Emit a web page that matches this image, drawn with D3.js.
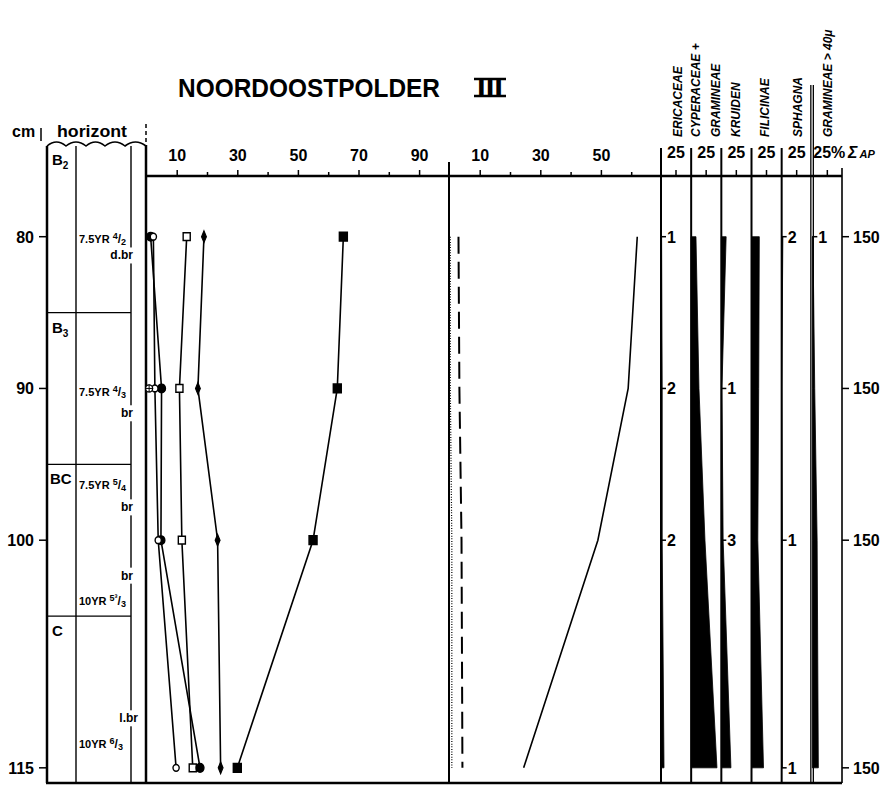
<!DOCTYPE html>
<html><head><meta charset="utf-8">
<script src="https://cdn.jsdelivr.net/npm/d3@7"></script>
<style>body{margin:0;background:#fff} svg{display:block}</style>
</head><body><svg id="c" width="896" height="785"></svg>
<script>
// ---------------- DATA ----------------
const depths = [80, 90, 100, 115];
const filledSquare  = [65, 63, 55, 30];
const filledDiamond = [19, 17, 23.5, 24.5];
const openSquare    = [13.3, 10.9, 11.7, 15.3];
const filledCircle  = [1.4, 5, 4.8, 17.7];
const openCircle    = [2.3, 2.8, 3.9, 9.8];
const crossedCircle = [null, 0.9, null, null];
const apSolid  = [62, 59, 49, 24.5];
const apDashed = [3, 3.3, 4, 4.3];
const apDotted = [0.3, 0.3, 0.8, 0.8];
const ericaceae = [1, 2, 2, 5];
const cyperGram = [8, 13, 23, 43];
const kruiden   = [8, 1, 3, 16];
const filicinae = [13, 12, 10.5, 20];
const sphagna   = [2, 0, 1, 1];
const gramLarge = [1, 4, 8, 10];
const sumAP = [150, 150, 150, 150];
const columnNames = [["ERICACEAE"], ["CYPERACEAE +", "GRAMINEAE"], ["KRUIDEN"], ["FILICINAE"], ["SPHAGNA"], ["GRAMINEAE > 40\u03bc"]];
const columnTickLabels = ["25", "25", "25", "25", "25", "25%"];
const mainTicks = [10, 20, 30, 40, 50, 60, 70, 80, 90];
const mainTickLabels = [10, 30, 50, 70, 90];
const secondTicks = [10, 20, 30, 40, 50, 60];
const secondTickLabels = [10, 30, 50];
const horizonNames = ["B", "B", "BC", "C"];
const horizonSubs = ["2", "3", "", ""];
const horizonTops = [76, 85, 95, 105];
const colourHue = ["7.5YR", "7.5YR", "7.5YR", "10YR", "10YR"];
const colourNum = ["4", "4", "5", "5\u00b3", "6"];
const colourDen = ["2", "3", "4", "3", "3"];
const colourDepth = [80.4, 90.5, 96.6, 104.3, 113.7];
const colourNames = ["d.br", "br", "br", "br", "l.br"];
const colourNameDepth = [81.5, 91.9, 98.1, 102.6, 112];
const title = "NOORDOOSTPOLDER";
const titleNumber = "III";

// ---------------- SETUP ----------------
const svg = d3.select("#c");
svg.append("rect").attr("width", 896).attr("height", 785).attr("fill", "#fff");
const F = "'Liberation Sans', Arial, sans-serif";
const FN = "'Liberation Sans Narrow', 'Liberation Sans', Arial, sans-serif";
const INK = "#000";

const y = d3.scaleLinear().domain([76, 116]).range([176, 783]);
const xMain = d3.scaleLinear().domain([0, 100]).range([146.4, 449.4]);
const xSecond = d3.scaleLinear().domain([0, 70]).range([449.4, 661.5]);
const colLeft = d3.scaleLinear().domain([0, 6]).range([661, 842]);
const pct = d3.scaleLinear().domain([0, 50]).range([0, 30]);
const AXIS_Y = 176, BOTTOM = 783;

// ---------------- TITLE ----------------
svg.append("text").attr("x", 178).attr("y", 97).attr("font-family", F).attr("font-weight", "bold")
  .attr("font-size", 26).attr("textLength", 262).attr("lengthAdjust", "spacingAndGlyphs").text(title);
svg.append("text").attr("x", 477).attr("y", 96).attr("font-family", F).attr("font-weight", "bold")
  .attr("font-size", 24).attr("textLength", 26).attr("lengthAdjust", "spacingAndGlyphs").text(titleNumber);
[79, 96].forEach(yy => svg.append("line").attr("x1", 474).attr("x2", 506).attr("y1", yy).attr("y2", yy)
  .attr("stroke", INK).attr("stroke-width", 2.5));

// ---------------- HORIZON COLUMN ----------------
const hg = svg.append("g");
hg.append("text").attr("x", 12).attr("y", 137).attr("font-family", F).attr("font-weight", "bold").attr("font-size", 16).text("cm");
hg.append("text").attr("x", 57).attr("y", 137).attr("font-family", F).attr("font-weight", "bold").attr("font-size", 17)
  .attr("textLength", 70).attr("lengthAdjust", "spacingAndGlyphs").text("horizont");
hg.append("line").attr("x1", 41).attr("x2", 41).attr("y1", 128).attr("y2", 141).attr("stroke", INK).attr("stroke-width", 1.5);
hg.append("line").attr("x1", 146).attr("x2", 146).attr("y1", 124).attr("y2", 145).attr("stroke", INK).attr("stroke-width", 1.5).attr("stroke-dasharray", "4,3");
const wp = d3.path();
const cusps = [47, 66, 86, 105, 125, 146];
wp.moveTo(cusps[0], 146);
for (let i = 1; i < cusps.length; i++) {
  const m = (cusps[i - 1] + cusps[i]) / 2;
  wp.quadraticCurveTo(m, 138, cusps[i], 146);
}
hg.append("path").attr("d", wp.toString()).attr("fill", "none").attr("stroke", INK).attr("stroke-width", 1.6);
hg.append("line").attr("x1", 47).attr("x2", 47).attr("y1", 146).attr("y2", BOTTOM).attr("stroke", INK).attr("stroke-width", 2.5);
hg.append("line").attr("x1", 76).attr("x2", 76).attr("y1", 146).attr("y2", BOTTOM).attr("stroke", INK).attr("stroke-width", 1.4);
hg.append("line").attr("x1", 131).attr("x2", 131).attr("y1", 146).attr("y2", BOTTOM).attr("stroke", INK).attr("stroke-width", 1.4);
hg.append("line").attr("x1", 146).attr("x2", 146).attr("y1", 145).attr("y2", BOTTOM).attr("stroke", INK).attr("stroke-width", 2.5);
horizonTops.forEach((t, i) => {
  if (i > 0) hg.append("line").attr("x1", 47).attr("x2", 131).attr("y1", y(t)).attr("y2", y(t)).attr("stroke", INK).attr("stroke-width", 1.4);
  const tx = hg.append("text").attr("x", horizonNames[i] === "BC" ? 50 : 52).attr("y", y(t) + (i === 0 ? -11 : 20))
    .attr("font-family", F).attr("font-weight", "bold").attr("font-size", 15).text(horizonNames[i]);
  if (horizonSubs[i]) tx.append("tspan").attr("font-size", 10).attr("dy", 4).text(horizonSubs[i]);
});
colourHue.forEach((h, i) => {
  const b = y(colourDepth[i]);
  const t = hg.append("text").attr("x", 79).attr("y", b).attr("font-family", FN).attr("font-weight", "bold").attr("font-size", 11);
  t.append("tspan").text(h + " ");
  t.append("tspan").attr("font-size", 9).attr("dy", -4).text(colourNum[i]);
  t.append("tspan").attr("font-size", 12).attr("dy", 4).text("/");
  t.append("tspan").attr("font-size", 9).attr("dy", 2).text(colourDen[i]);
});
colourNames.forEach((n, i) => {
  const b = y(colourNameDepth[i]);
  const t = hg.append("text").attr("x", n === "l.br" ? 138 : 133).attr("y", b).attr("text-anchor", "end")
    .attr("font-family", F).attr("font-weight", "bold").attr("font-size", 12).text(n);
  const bb = t.node().getBBox();
  hg.insert("rect", () => t.node()).attr("x", bb.x - 1).attr("y", bb.y - 1).attr("width", bb.width + 2).attr("height", bb.height + 2).attr("fill", "#fff");
});
depths.forEach(d => {
  hg.append("line").attr("x1", 39).attr("x2", 46).attr("y1", y(d)).attr("y2", y(d)).attr("stroke", INK).attr("stroke-width", 1.5);
  hg.append("text").attr("x", 34).attr("y", y(d) + 6).attr("text-anchor", "end").attr("font-family", F).attr("font-weight", "bold").attr("font-size", 16).text(d);
});

// ---------------- FRAME LINES ----------------
svg.append("line").attr("x1", 146).attr("x2", 842).attr("y1", AXIS_Y).attr("y2", AXIS_Y).attr("stroke", INK).attr("stroke-width", 2.5);
svg.append("line").attr("x1", 46).attr("x2", 842).attr("y1", BOTTOM).attr("y2", BOTTOM).attr("stroke", INK).attr("stroke-width", 2.5);
svg.append("line").attr("x1", 449).attr("x2", 449).attr("y1", 162).attr("y2", BOTTOM).attr("stroke", INK).attr("stroke-width", 2);

// ---------------- TOP AXES ----------------
function topAxis(scale, ticks, labelled) {
  const g = svg.append("g").attr("transform", `translate(0,${AXIS_Y})`)
    .call(d3.axisTop(scale).tickValues(ticks).tickSize(6).tickPadding(9)
      .tickFormat(d => labelled.includes(d) ? d : ""));
  g.select(".domain").remove();
  g.selectAll(".tick line").attr("stroke", INK).attr("stroke-width", 1.5)
    .attr("y2", d => labelled.includes(d) ? -6 : -4);
  g.selectAll(".tick text").attr("font-family", FN).attr("font-weight", "bold").attr("font-size", 16).attr("fill", INK);
}
topAxis(xMain, mainTicks, mainTickLabels);
topAxis(xSecond, secondTicks, secondTickLabels);

// ---------------- MAIN PANEL SERIES ----------------
const line = sc => d3.line().defined(d => d.v != null).x(d => sc(d.v)).y(d => y(d.d));
const rows = arr => depths.map((d, i) => ({ d, v: arr[i] }));
const mainSeries = [
  { vals: filledSquare, sym: d3.symbolSquare, size: 64, fill: INK, sx: 1, sy: 1.1 },
  { vals: filledDiamond, sym: d3.symbolDiamond, size: 36, fill: INK, sx: 0.75, sy: 1.05 },
  { vals: openSquare, sym: d3.symbolSquare, size: 50, fill: "#fff", sx: 1, sy: 1.1 },
  { vals: filledCircle, sym: d3.symbolCircle, size: 48, fill: INK, sx: 1, sy: 1.1 },
  { vals: openCircle, sym: d3.symbolCircle, size: 30, fill: "#fff", sx: 1, sy: 1.1 }
];
const mg = svg.append("g");
mainSeries.forEach(s => {
  mg.append("path").attr("d", line(xMain)(rows(s.vals))).attr("fill", "none").attr("stroke", INK).attr("stroke-width", 1.6);
});
mainSeries.forEach(s => {
  mg.selectAll(null).data(rows(s.vals).filter(r => r.v != null)).enter().append("path")
    .attr("transform", r => `translate(${xMain(r.v)},${y(r.d)}) scale(${s.sx},${s.sy})`)
    .attr("d", d3.symbol(s.sym, s.size)).attr("fill", s.fill).attr("stroke", INK).attr("stroke-width", 1.4);
});
rows(crossedCircle).filter(r => r.v != null).forEach(r => {
  const cx = xMain(r.v), cy = y(r.d);
  mg.append("circle").attr("cx", cx).attr("cy", cy).attr("r", 3.5).attr("fill", "#fff").attr("stroke", INK).attr("stroke-width", 1.3);
  mg.append("line").attr("x1", cx - 4).attr("x2", cx + 4).attr("y1", cy).attr("y2", cy).attr("stroke", INK).attr("stroke-width", 1);
  mg.append("line").attr("x1", cx).attr("x2", cx).attr("y1", cy - 4).attr("y2", cy + 4).attr("stroke", INK).attr("stroke-width", 1);
});

// ---------------- SECOND PANEL ----------------
const sg = svg.append("g");
sg.append("path").attr("d", line(xSecond)(rows(apSolid))).attr("fill", "none").attr("stroke", INK).attr("stroke-width", 1.6);
sg.append("path").attr("d", line(xSecond)(rows(apDashed))).attr("fill", "none").attr("stroke", INK).attr("stroke-width", 2).attr("stroke-dasharray", "17,8");
sg.append("path").attr("d", line(xSecond)(rows(apDotted))).attr("fill", "none").attr("stroke", INK).attr("stroke-width", 1.2).attr("stroke-dasharray", "1,1.6");

// ---------------- PERCENT COLUMNS ----------------
const colSeries = [ericaceae, cyperGram, kruiden, filicinae, sphagna, gramLarge];
const headerOffsets = [[21], [9, 29], [19], [17], [20], [20]];
const cg = svg.append("g");
colSeries.forEach((vals, i) => {
  const L = colLeft(i) + (i === 5 ? 0.5 : 0);
  if (i === 5) {
    [-1.5, 1].forEach(o => cg.append("line").attr("x1", L + o).attr("x2", L + o).attr("y1", 85).attr("y2", BOTTOM).attr("stroke", INK).attr("stroke-width", 1.3));
  } else {
    cg.append("line").attr("x1", L).attr("x2", L).attr("y1", 148).attr("y2", BOTTOM).attr("stroke", INK).attr("stroke-width", 2);
  }
  cg.append("line").attr("x1", L + pct(25)).attr("x2", L + pct(25)).attr("y1", AXIS_Y).attr("y2", AXIS_Y - 6).attr("stroke", INK).attr("stroke-width", 1.5);
  cg.append("text").attr("x", L + pct(25) + (i === 5 ? 2 : 0)).attr("y", 158).attr("text-anchor", "middle")
    .attr("font-family", FN).attr("font-weight", "bold").attr("font-size", 16).text(columnTickLabels[i]);
  const area = d3.area().x0(L).x1(d => L + pct(d.v)).y(d => y(d.d));
  cg.append("path").attr("d", area(rows(vals))).attr("fill", INK).attr("stroke", INK).attr("stroke-width", 0.8);
  rows(vals).forEach(r => {
    if (r.v > 0 && r.v <= 3) {
      cg.append("line").attr("x1", L).attr("x2", L + 5).attr("y1", y(r.d)).attr("y2", y(r.d)).attr("stroke", INK).attr("stroke-width", 1.5);
      cg.append("text").attr("x", L + 6).attr("y", y(r.d) + 6).attr("font-family", FN).attr("font-weight", "bold").attr("font-size", 16).text(r.v);
    }
  });
  columnNames[i].forEach((n, k) => {
    cg.append("text").attr("transform", `translate(${colLeft(i) + headerOffsets[i][k]},137) rotate(-90)`)
      .attr("font-family", F).attr("font-weight", "bold").attr("font-style", "italic").attr("font-size", 12).text(n);
  });
});
cg.append("line").attr("x1", 842).attr("x2", 842).attr("y1", 168).attr("y2", BOTTOM).attr("stroke", INK).attr("stroke-width", 1.6);
depths.forEach((d, i) => {
  cg.append("line").attr("x1", 842).attr("x2", 849).attr("y1", y(d)).attr("y2", y(d)).attr("stroke", INK).attr("stroke-width", 1.5);
  cg.append("text").attr("x", 853).attr("y", y(d) + 6).attr("font-family", FN).attr("font-weight", "bold").attr("font-size", 16).text(sumAP[i]);
});
const sl = cg.append("text").attr("x", 848).attr("y", 158).attr("font-family", F).attr("font-weight", "bold").attr("font-style", "italic");
sl.append("tspan").attr("font-size", 16).text("\u03a3");
sl.append("tspan").attr("font-size", 11).attr("dx", 2).text("AP");
</script></body></html>
